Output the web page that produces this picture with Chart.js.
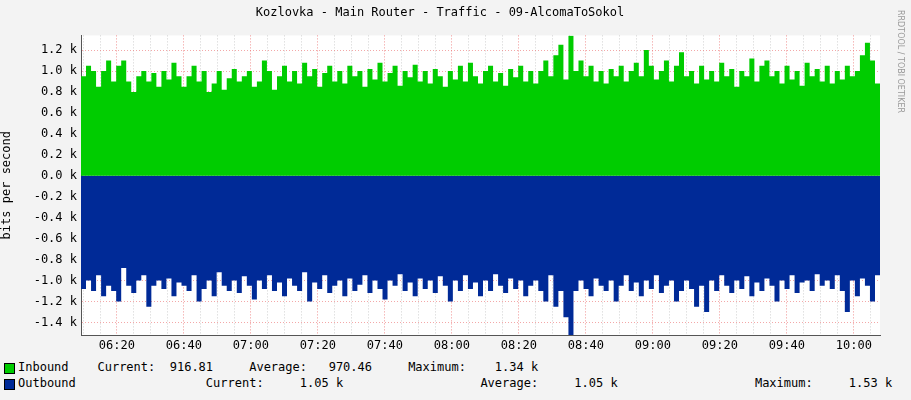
<!DOCTYPE html>
<html><head><meta charset="utf-8">
<script src="https://cdn.jsdelivr.net/npm/chart.js@4"></script>
<style>
body{margin:0;background:#f3f3f3;width:911px;height:400px;overflow:hidden;font-family:"DejaVu Sans Mono",monospace;font-size:12px;color:#000}
#c{position:absolute;left:0;top:0;width:911px;height:360px}
.lg{position:absolute;left:18px;white-space:pre}
.sw{position:absolute;left:4px;width:9px;height:9px;border:1px solid #000}
#rrd{position:absolute;left:896px;top:10px;writing-mode:vertical-rl;font-size:8px;color:#999;font-family:"DejaVu Sans",sans-serif}
</style></head><body>
<canvas id="c" width="911" height="360"></canvas>
<div id="rrd">RRDTOOL / TOBI OETIKER</div>
<div class="sw" style="top:363px;background:#00cc00"></div>
<div class="lg" style="top:360px">Inbound    Current:  916.81     Average:   970.46     Maximum:    1.34 k</div>
<div class="sw" style="top:379px;background:#002a97"></div>
<div class="lg" style="top:376px">Outbound                  Current:     1.05 k                   Average:     1.05 k                   Maximum:     1.53 k</div>
<script>
const startMin = 9.3, stepMin = 1.5;
const inbound = [0.95,1.05,1.0,0.85,1.0,1.1,0.9,1.05,1.1,0.9,
0.8,0.95,1.0,0.9,0.98,0.85,1.0,0.92,1.08,0.95,
0.85,0.95,1.05,0.9,1.0,0.8,0.88,1.0,0.82,0.93,
1.02,0.9,0.95,1.0,0.85,0.9,1.1,1.0,0.82,0.95,
1.05,0.9,1.0,0.88,1.08,0.95,1.02,0.85,0.98,1.05,
0.9,1.0,0.88,1.05,0.95,1.0,0.85,1.02,0.92,1.08,
0.9,0.98,1.05,0.86,1.0,0.94,1.06,0.9,1.0,0.88,
1.02,0.95,0.85,1.0,0.92,1.05,0.9,1.08,0.95,0.88,
1.0,1.05,0.9,0.98,0.86,1.02,0.94,1.05,0.9,1.0,
0.88,1.0,1.1,0.95,1.15,1.25,0.92,1.34,1.0,1.1,
0.95,1.05,0.9,1.0,0.88,1.02,0.95,1.05,0.9,1.0,
1.08,0.95,1.2,1.05,0.92,1.0,1.1,0.9,1.05,1.18,
0.95,1.0,0.88,1.05,0.92,1.0,0.9,1.08,0.95,1.02,
0.85,1.0,0.95,1.12,0.9,1.05,1.1,0.95,1.0,0.88,
1.05,0.92,1.0,0.86,1.08,0.95,1.02,0.9,1.05,0.88,
1.0,0.92,1.05,0.95,1.0,1.15,1.27,1.1,0.88,0.78];
const outbound = [-1.08,-1.0,-1.1,-0.95,-1.15,-1.05,-1.1,-1.2,-0.88,-1.05,
-1.12,-1.0,-0.95,-1.25,-1.05,-1.0,-1.08,-0.98,-1.15,-1.02,
-1.05,-1.1,-0.95,-1.2,-1.08,-1.0,-1.15,-0.92,-1.05,-1.1,
-1.0,-1.12,-0.96,-1.05,-1.18,-1.0,-1.08,-0.95,-1.1,-1.02,
-1.15,-0.98,-1.05,-1.1,-0.92,-1.2,-1.02,-1.08,-0.95,-1.12,
-1.05,-1.0,-1.15,-0.98,-1.1,-1.04,-0.95,-1.12,-1.0,-1.08,
-1.18,-1.0,-1.05,-0.94,-1.1,-1.02,-1.15,-0.98,-1.08,-1.0,
-1.12,-0.96,-1.05,-1.2,-1.0,-1.1,-0.95,-1.08,-1.02,-1.15,
-1.0,-1.1,-0.94,-1.05,-1.12,-0.98,-1.08,-1.0,-1.15,-1.05,
-1.0,-1.1,-1.2,-0.95,-1.25,-1.1,-1.35,-1.53,-1.1,-1.0,
-1.08,-1.15,-0.98,-1.05,-1.1,-1.0,-1.2,-1.05,-0.95,-1.1,
-1.02,-1.15,-1.0,-1.08,-0.95,-1.12,-1.05,-1.0,-1.2,-1.1,
-1.0,-1.08,-1.25,-1.05,-1.3,-1.0,-1.1,-0.95,-1.05,-1.12,
-1.0,-1.08,-0.96,-1.15,-1.02,-1.1,-0.98,-1.05,-1.2,-1.0,
-1.08,-0.95,-1.12,-1.02,-1.0,-1.1,-0.94,-1.05,-1.0,-1.08,
-0.95,-1.1,-1.3,-1.0,-1.15,-0.98,-1.05,-1.2,-0.95,-1.05];
const xTickLabels = {20:"06:20",40:"06:40",60:"07:00",80:"07:20",100:"07:40",120:"08:00",140:"08:20",160:"08:40",180:"09:00",200:"09:20",220:"09:40",240:"10:00"};
const yMin=-1520, yMax=1340;
const pts = a => a.map((v,i)=>({x:startMin+i*stepMin,y:v*1000}));
new Chart(document.getElementById('c'),{
 type:'line',
 data:{datasets:[
  {data:pts(inbound),stepped:true,fill:'origin',backgroundColor:'#00cc00',borderColor:'#00cc00',borderWidth:0,pointRadius:0},
  {data:pts(outbound),stepped:true,fill:'origin',backgroundColor:'#002a97',borderColor:'#002a97',borderWidth:0,pointRadius:0}]},
 options:{responsive:false,animation:false,devicePixelRatio:1,
  layout:{padding:{left:0,right:31,top:0,bottom:0}},
  plugins:{legend:{display:false},tooltip:{enabled:false},
   title:{display:true,text:'Kozlovka - Main Router - Traffic - 09-AlcomaToSokol',font:{family:'DejaVu Sans Mono',size:12,weight:'normal'},color:'#000',padding:{top:6,bottom:15}}},
  scales:{
   x:{type:'linear',min:startMin,max:startMin+inbound.length*stepMin-1.5,
    afterBuildTicks:s=>{s.ticks=[];for(let m=10;m<=245;m+=5)s.ticks.push({value:m});},
    afterFit:s=>{s.height=25;},
    ticks:{callback:v=>xTickLabels[v]||'',autoSkip:false,maxRotation:0,color:'#000',font:{family:'DejaVu Sans Mono',size:12},padding:4},
    grid:{color:c=>c.tick&&c.tick.value%20===0?'rgba(235,110,110,0.75)':'#d0d0d0',drawTicks:false},
    border:{color:'#555',dash:[1,2]}},
   y:{min:yMin,max:yMax,
    afterBuildTicks:s=>{s.ticks=[];for(let v=-1400;v<=1200;v+=200)s.ticks.push({value:v});},
    afterFit:s=>{s.width=81;},
    title:{display:true,text:'bits per second',font:{family:'DejaVu Sans Mono',size:12},color:'#000',padding:0},
    ticks:{callback:v=>(v/1000).toFixed(1)+' k',color:'#000',font:{family:'DejaVu Sans Mono',size:12},padding:4},
    grid:{color:'rgba(235,110,110,0.6)',drawTicks:false},
    border:{color:'#555',dash:[1,2]}}
  }},
 plugins:[{id:'bg',beforeDraw(ch){const {ctx,chartArea:a}=ch;ctx.save();ctx.fillStyle='#fff';ctx.fillRect(a.left,a.top,a.right-a.left,a.bottom-a.top);ctx.restore();}}]
});
</script>
</body></html>
